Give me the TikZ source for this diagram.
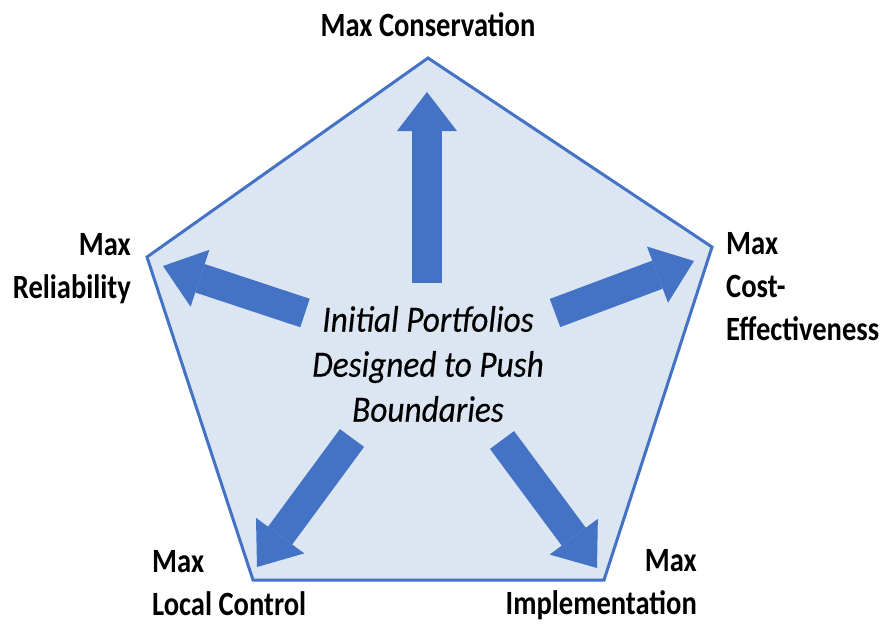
\documentclass[tikz,border=0pt]{standalone}
\usepackage{fontspec}
\setmainfont{Carlito}
\newfontfamily\calib[FakeStretch=0.84]{Carlito}
\newfontfamily\calibit[FakeStretch=0.9,FakeBold=0.3]{Carlito}
\usetikzlibrary{arrows.meta}
\definecolor{pentfill}{HTML}{DCE6F2}
\definecolor{pentedge}{HTML}{4472C4}
\definecolor{arrowblue}{HTML}{4472C4}
\tikzset{
  pent/.style={draw=pentedge, fill=pentfill, line width=3pt, line join=miter},
  bigarrow/.style={draw=arrowblue, line width=30pt, line cap=butt,
    -{Triangle[width=60pt,length=39pt,line width=0pt]}},
  lbl/.style={inner sep=0pt, font=\calib\bfseries\fontsize{34}{43}\selectfont},
  centertext/.style={inner sep=0pt, align=center, font=\calibit\itshape\fontsize{37}{45}\selectfont}
}
\begin{document}
\begin{tikzpicture}[x=1pt,y=-1pt]
\useasboundingbox (0,0) rectangle (882,623);
% pentagon corners
\coordinate (pT) at (428,58);
\coordinate (pR) at (712,247);
\coordinate (pBR) at (604,580);
\coordinate (pBL) at (253,580);
\coordinate (pL) at (147,257);
\draw[pent] (pT) -- (pR) -- (pBR) -- (pBL) -- (pL) -- cycle;
% arrow tails and tips
\coordinate (tU) at (427,283);  \coordinate (hU) at (427,92);
\coordinate (tL) at (305,313);  \coordinate (hL) at (163,266);
\coordinate (tR) at (555,313);  \coordinate (hR) at (694,261);
\coordinate (tBL) at (352,438); \coordinate (hBL) at (257,567);
\coordinate (tBR) at (502,440); \coordinate (hBR) at (597,568);
\draw[bigarrow] (tU) -- (hU);
\draw[bigarrow] (tL) -- (hL);
\draw[bigarrow] (tR) -- (hR);
\draw[bigarrow] (tBL) -- (hBL);
\draw[bigarrow] (tBR) -- (hBR);
% centre text
\node[centertext] (ctr) at (428,364) {Initial Portfolios\\Designed to Push\\Boundaries};
% labels
\node[lbl, anchor=base] (lcons) at (428,37) {Max Conservation};
\node[lbl, anchor=base east, align=right] (lrel) at (131,298) {Max\\Reliability};
\node[lbl, anchor=base west, align=left] (lcost) at (726,340) {Max\\Cost-\\Effectiveness};
\node[lbl, anchor=base west, align=left] (lloc) at (152,615) {Max\\Local Control};
\node[lbl, anchor=base east, align=right] (limp) at (697,614) {Max\\Implementation};
\end{tikzpicture}
\end{document}
